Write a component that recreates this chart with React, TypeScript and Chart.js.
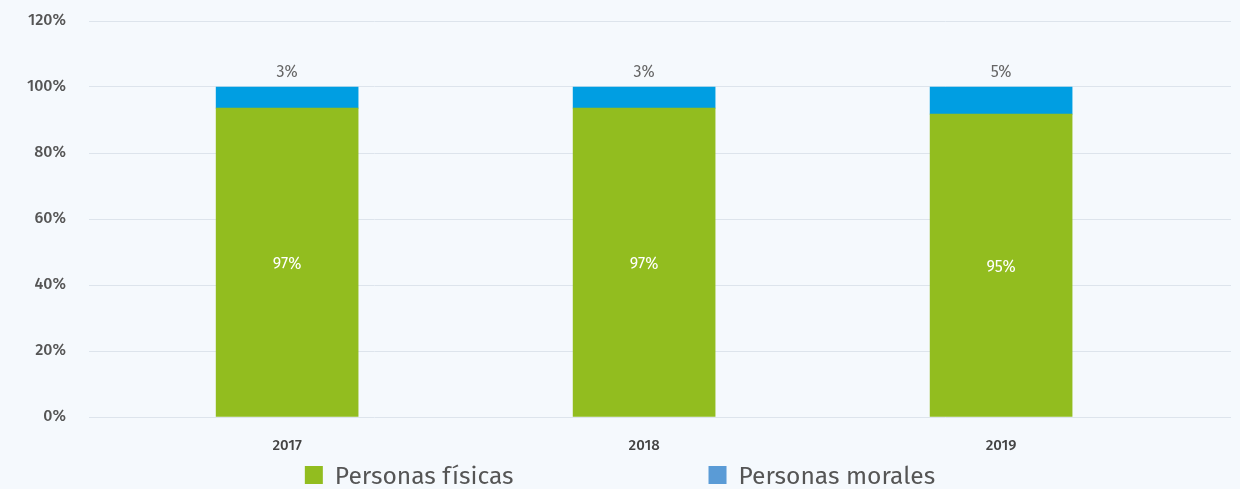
import React, { useEffect, useRef } from 'react';
import { Chart, registerables } from 'chart.js';

Chart.register(...registerables);

const categories = ['2017', '2018', '2019'];
const personasFisicas = [93.6, 93.6, 91.8];
const personasMorales = [6.4, 6.4, 8.2];
const fisicasLabels = ['97%', '97%', '95%'];
const moralesLabels = ['3%', '3%', '5%'];
const yTicks = [0, 20, 40, 60, 80, 100, 120];
const seriesNames = ['Personas físicas', 'Personas morales'];

const BG = '#f5f9fd';
const GREEN = '#92bd1f';
const BLUE = '#009ee2';
const LEGEND_BLUE = '#5a9bd6';
const FONT = "'Fira Sans', 'Open Sans', sans-serif";

const bgPlugin = {
  id: 'bg',
  beforeDraw(chart: any) {
    const { ctx, width, height } = chart;
    ctx.save();
    ctx.fillStyle = BG;
    ctx.fillRect(0, 0, width, height);
    ctx.restore();
  },
};

const labelPlugin = {
  id: 'valueLabels',
  afterDatasetsDraw(chart: any) {
    const { ctx } = chart;
    ctx.save();
    ctx.textAlign = 'center';
    ctx.textBaseline = 'middle';
    ctx.font = `16px ${FONT}`;
    const m0 = chart.getDatasetMeta(0);
    m0.data.forEach((el: any, i: number) => {
      ctx.fillStyle = '#ffffff';
      ctx.fillText(fisicasLabels[i], el.x, (el.y + el.base) / 2 + 2);
    });
    const m1 = chart.getDatasetMeta(1);
    m1.data.forEach((el: any, i: number) => {
      ctx.fillStyle = '#666666';
      ctx.fillText(moralesLabels[i], el.x, el.y - 14);
    });
    ctx.restore();
  },
};

const legendPlugin = {
  id: 'customLegend',
  afterDraw(chart: any) {
    const { ctx, width } = chart;
    const colors = [GREEN, LEGEND_BLUE];
    ctx.save();
    ctx.font = `24.6px ${FONT}`;
    ctx.textBaseline = 'middle';
    ctx.textAlign = 'left';
    const box = 18;
    const gapText = 12;
    const gapItem = 195;
    const widths = seriesNames.map((n) => ctx.measureText(n).width);
    const total = widths.reduce((a, w) => a + box + gapText + w, 0) + gapItem * (seriesNames.length - 1);
    let x = (width - total) / 2;
    const cy = 476;
    seriesNames.forEach((n, i) => {
      ctx.fillStyle = colors[i];
      ctx.fillRect(x, cy - box / 2 - 1, box, box);
      ctx.fillStyle = '#555555';
      ctx.fillText(n, x + box + gapText, cy + 1);
      x += box + gapText + widths[i] + gapItem;
    });
    ctx.restore();
  },
};

export default function App() {
  const ref = useRef<HTMLCanvasElement>(null);

  useEffect(() => {
    document.body.style.margin = '0';
    document.body.style.background = BG;
    const canvas = ref.current;
    if (!canvas) return;
    const chart = new Chart(canvas, {
      type: 'bar',
      data: {
        datasets: [
          {
            label: seriesNames[0],
            data: personasFisicas.map((v, i) => ({ x: i, y: v })),
            backgroundColor: GREEN,
            barThickness: 142,
            stack: 's',
          },
          {
            label: seriesNames[1],
            data: personasMorales.map((v, i) => ({ x: i, y: v })),
            backgroundColor: BLUE,
            barThickness: 142,
            stack: 's',
          },
        ],
      },
      options: {
        animation: false,
        responsive: false,
        layout: { padding: { top: 21, right: 9, left: 0, bottom: 0 } },
        plugins: {
          legend: { display: false },
          tooltip: { enabled: false },
        },
        scales: {
          x: {
            type: 'linear',
            stacked: true,
            offset: false,
            min: -0.555,
            max: 2.644,
            grid: { display: false, drawTicks: false },
            border: { display: false },
            afterBuildTicks: (scale: any) => {
              scale.ticks = categories.map((_, i) => ({ value: i }));
            },
            afterFit: (scale: any) => {
              scale.height = 72;
            },
            ticks: {
              padding: 20,
              color: '#444444',
              font: { family: FONT, size: 15, weight: '500' },
              callback: (v: any) => categories[v as number] ?? '',
              maxRotation: 0,
              autoSkip: false,
            },
          },
          y: {
            stacked: true,
            min: 0,
            max: 120,
            afterBuildTicks: (scale: any) => {
              scale.ticks = yTicks.map((v) => ({ value: v }));
            },
            afterFit: (scale: any) => {
              scale.width = 89;
              scale.paddingTop = 0;
            },
            grid: { color: '#dde4ec', lineWidth: 1, drawTicks: false },
            border: { display: false },
            ticks: {
              padding: 23,
              color: '#555555',
              font: { family: FONT, size: 16, weight: '500' },
              callback: (v: any) => `${v}%`,
            },
          },
        },
      },
      plugins: [bgPlugin, labelPlugin, legendPlugin],
    } as any);
    return () => chart.destroy();
  }, []);

  return (
    <div style={{ width: 1240, height: 489, background: BG }}>
      <canvas ref={ref} width={1240} height={489} />
    </div>
  );
}
